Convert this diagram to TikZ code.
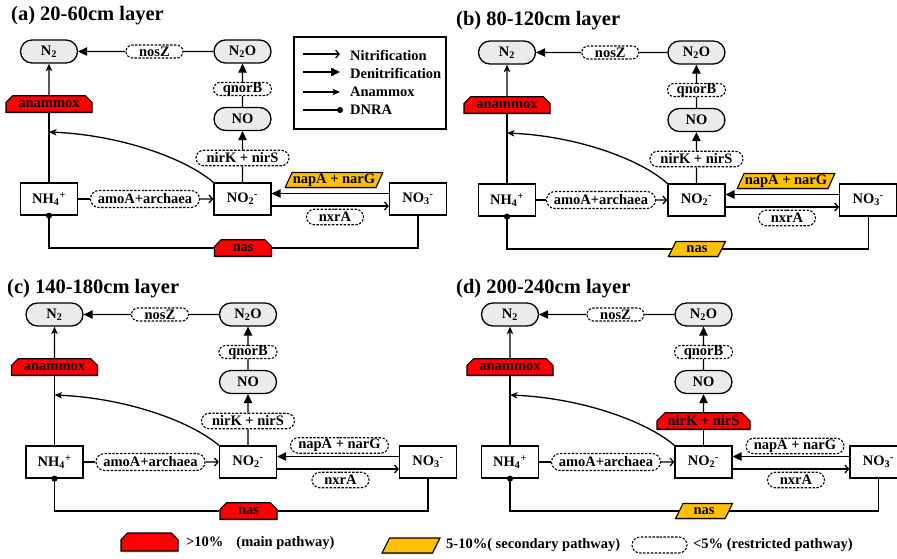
\documentclass[tikz,border=0pt]{standalone}
\usepackage{fontspec}
\setmainfont{Liberation Serif}
\usetikzlibrary{arrows.meta,shapes.misc,shapes.geometric,shadows}
\definecolor{mainred}{HTML}{FF0000}
\definecolor{secyel}{HTML}{FFC000}
\definecolor{chemgray}{HTML}{EBEBEB}
\definecolor{shadowblue}{HTML}{B4C3D8}
\tikzset{
 every node/.style={font=\fontsize{14.5}{16}\selectfont\bfseries, inner sep=0pt},
 chem/.style={rounded rectangle, draw, line width=1.3pt, fill=chemgray, minimum width=57pt, minimum height=23pt},
 pool/.style={rectangle, draw, line width=1.3pt, fill=white, minimum width=57pt, minimum height=32pt},
 mainpath/.style={chamfered rectangle, chamfered rectangle corners={north west,north east}, chamfered rectangle xsep=6pt, draw, line width=1.1pt, fill=mainred, minimum height=16.5pt, drop shadow={shadow xshift=0.6pt, shadow yshift=-1.6pt, fill=shadowblue, opacity=0.6}},
 secpath/.style={trapezium, trapezium left angle=62, trapezium right angle=118, trapezium stretches=true, draw, line width=1.1pt, fill=secyel, minimum height=15pt, drop shadow={shadow xshift=0.6pt, shadow yshift=-1.6pt, fill=shadowblue, opacity=0.6}},
 restr/.style={rounded rectangle, draw, dash pattern=on 2.4pt off 1.5pt, line width=1.1pt, fill=white, minimum height=15.5pt},
 conn/.style={line width=1.3pt},
 nit/.style={conn, -{Straight Barb[length=3.5pt,width=8pt]}},
 den/.style={conn, -{Triangle[length=9pt,width=8.5pt]}},
 anam/.style={conn, -{Stealth[length=7.5pt,width=6.5pt,inset=2pt]}},
 dnra/.style={conn, -{Circle[length=6pt]}, shorten >=-3pt},
 ttl/.style={font=\fontsize{20.5}{22}\selectfont\bfseries, anchor=west},
 legtxt/.style={anchor=west},
}
\newcommand\nitropanel[9]{%
 \begin{scope}[shift={#1}, xscale=#3, name prefix=#2-]
  \node[chem] (N2) at (0,0) {N\textsubscript{2}};
  \node[chem] (N2O) at (193.5,0) {N\textsubscript{2}O};
  \node[chem] (NO) at (193.5,67.5) {NO};
  \node[pool] (NH4) at (0,147.5) {NH\textsubscript{4}\textsuperscript{+}};
  \node[pool] (NO2) at (193.5,147.5) {NO\textsubscript{2}\textsuperscript{-}};
  \node[pool] (NO3) at (#4,147.5) {NO\textsubscript{3}\textsuperscript{-}};
  \node[restr, minimum width=57pt, minimum height=13pt] (nosZ) at (105.5,0) {nosZ};
  \node[restr, minimum width=58pt, minimum height=13pt] (qnorB) at (193.5,37.5) {qnorB};
  \node[#6, minimum width=93pt] (nirK) at (193.5,106.5) {nirK + nirS};
  \node[restr, minimum width=109pt, minimum height=17pt] (amoA) at (96,147.5) {amoA+archaea};
  \node[#5, minimum width=86pt] (anammox) at (0,52.5) {anammox};
  \node[#7, minimum width=98pt] (napA) at (285,#9) {napA + narG};
  \node[restr, minimum width=57pt] (nxrA) at (286,165.5) {nxrA};
  \node[#8, minimum width=57pt] (nas) at (194,196.5) {nas};
  \coordinate (amx) at (0,80.5);
  \coordinate (cA) at (136,106.5);
  \coordinate (cB) at (71,83.5);
  \draw[conn] (NH4) -- (amoA);
  \draw[nit] (amoA) -- (NO2);
  \draw[conn] (NO2) -- (nirK);
  \draw[den] (nirK) -- (NO);
  \draw[conn] (NO) -- (qnorB);
  \draw[den] (qnorB) -- (N2O);
  \draw[conn] (N2O) -- (nosZ);
  \draw[den] (nosZ) -- (N2);
  \draw[conn] (NH4) -- (anammox);
  \draw[anam] (anammox) -- (N2);
  \draw[anam] (NO2.north west) .. controls (cA) and (cB) .. (amx);
  \draw[den] ([yshift=5.5pt]NO3.west) -- ([yshift=5.5pt]NO2.east);
  \draw[nit] ([yshift=-7pt]NO2.east) -- ([yshift=-7pt]NO3.west);
  \draw[conn] (NO3.south) |- (nas.east);
  \draw[dnra] (nas.west) -| (NH4.south);
 \end{scope}}
\begin{document}
\begin{tikzpicture}[x=1pt,y=-1pt]
\useasboundingbox (0,0) rectangle (897,558);
\nitropanel{(49,51.5)}{a}{1}{369}{mainpath}{restr}{secpath}{mainpath}{128.5}
\nitropanel{(507,52.5)}{b}{0.979}{369}{mainpath}{restr}{secpath}{secpath}{128.5}
\nitropanel{(54.5,314.5)}{c}{1}{373.5}{mainpath}{restr}{restr}{mainpath}{131}
\nitropanel{(510,314.5)}{d}{1}{368.5}{mainpath}{mainpath}{restr}{secpath}{131.5}
\node[ttl] (ta) at (11,15.5) {(a) 20-60cm layer};
\node[ttl] (tb) at (456,20.5) {(b) 80-120cm layer};
\node[ttl] (tc) at (7,288.5) {(c) 140-180cm layer};
\node[ttl] (td) at (456,288.5) {(d) 200-240cm layer};
% legend box
\node[draw, line width=1.1pt, minimum width=152pt, minimum height=92pt] (legbox) at (370,83) {};
\coordinate (l1a) at (303,54); \coordinate (l1b) at (340,54);
\coordinate (l2a) at (303,72); \coordinate (l2b) at (340,72);
\coordinate (l3a) at (303,92); \coordinate (l3b) at (340,92);
\coordinate (l4a) at (303,110); \coordinate (l4b) at (340,110);
\draw[nit] (l1a) -- (l1b);
\draw[den] (l2a) -- (l2b);
\draw[anam] (l3a) -- (l3b);
\draw[dnra] (l4a) -- (l4b);
\node[legtxt] (n1) at (350,55) {Nitrification};
\node[legtxt] (n2) at (350,73) {Denitrification};
\node[legtxt] (n3) at (350,92) {Anammox};
\node[legtxt] (n4) at (350,110) {DNRA};
% bottom legend
\node[mainpath, minimum width=57pt, minimum height=18pt] (legmain) at (149.5,542) {\phantom{nas}};
\node[legtxt] (legmaintxt) at (186,543) {>10\%\hspace{13pt}(main pathway)};
\node[secpath, minimum width=58pt] (legsec) at (411,545.5) {\phantom{nas}};
\node[legtxt] (legsectxt) at (446,545.5) {5-10\%( secondary pathway)};
\node[restr, minimum width=55pt, minimum height=16pt] (legres) at (659.5,545) {\phantom{nas}};
\node[legtxt] (legrestxt) at (693,545) {<5\% (restricted pathway)};
\end{tikzpicture}
\end{document}
